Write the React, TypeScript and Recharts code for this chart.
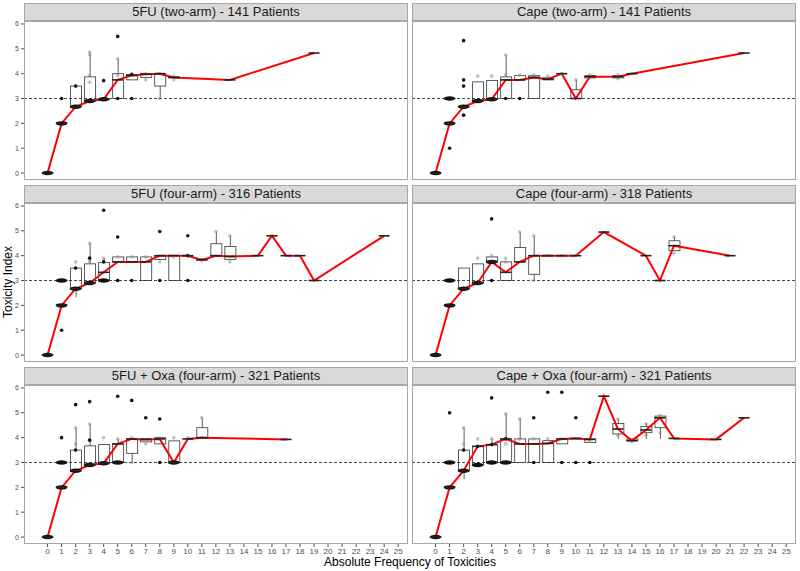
import React from 'react';
import { ComposedChart, Bar, Line, Scatter, XAxis, YAxis, ReferenceLine } from 'recharts';

// box rows: [x, lowWhisker, q1, median, q3, highWhisker]
type BoxRow = [number, number, number, number, number, number];
// point rows: [x, y, kind] kind: d = dense cluster, b = outlier, g = jitter point
type PtRow = [number, number, string];

const xTicks = [0, 1, 2, 3, 4, 5, 6, 7, 8, 9, 10, 11, 12, 13, 14, 15, 16, 17, 18, 19, 20, 21, 22, 23, 24, 25];
const yTicks = [0, 1, 2, 3, 4, 5, 6];

const fu2Box: BoxRow[] = [
  [0, 0, 0, 0, 0, 0], [1, 2, 2, 2, 2, 2], [2, 2.67, 2.67, 2.67, 3.5, 3.5],
  [3, 2.9, 2.9, 2.9, 3.87, 4.87], [4, 2.97, 2.97, 2.97, 2.97, 2.97], [5, 3, 3, 3.75, 4, 4.6],
  [6, 3.75, 3.75, 3.93, 3.97, 4], [7, 3.83, 3.85, 3.98, 4, 4], [8, 3, 3.5, 4, 4, 4],
  [9, 3.83, 3.83, 3.85, 3.87, 3.87], [13, 3.75, 3.75, 3.75, 3.75, 3.75], [19, 4.83, 4.83, 4.83, 4.83, 4.83],
];
const fu2Pts: PtRow[] = [
  [0, 0, 'd'], [1, 2, 'd'], [2, 2.67, 'd'], [3, 2.9, 'd'], [4, 2.97, 'd'],
  [1, 3, 'b'], [2, 3.5, 'b'], [4, 3.72, 'b'], [5, 5.5, 'b'], [5, 3, 'b'], [6, 3, 'b'], [6, 3.97, 'b'],
  [3, 4.75, 'g'], [3, 4.87, 'g'], [3, 3.93, 'g'], [3, 3.65, 'g'], [5, 4.6, 'g'], [5, 3.93, 'g'],
  [7, 3.75, 'g'], [7, 4, 'g'], [8, 3, 'g'], [8, 4, 'g'], [9, 3.9, 'g'], [9, 3.75, 'g'],
];

const cape2Box: BoxRow[] = [
  [0, 0, 0, 0, 0, 0], [1, 2, 2, 2, 2, 2], [2, 2.67, 2.67, 2.67, 2.67, 2.67],
  [3, 2.9, 2.9, 2.9, 3.67, 3.67], [4, 2.97, 2.97, 2.97, 3.73, 3.73], [5, 3, 3, 3.75, 3.87, 4.75],
  [6, 3.75, 3.75, 3.75, 3.92, 3.92], [7, 3, 3, 3.85, 3.92, 3.92], [8, 3.75, 3.75, 3.78, 3.83, 3.83],
  [9, 4, 4, 4, 4, 4], [10, 3, 3, 3, 3.35, 3.75], [11, 3.83, 3.83, 3.88, 3.92, 3.92],
  [13, 3.83, 3.83, 3.88, 3.92, 3.92], [14, 4, 4, 4, 4, 4], [22, 4.83, 4.83, 4.83, 4.83, 4.83],
];
const cape2Pts: PtRow[] = [
  [0, 0, 'd'], [1, 2, 'd'], [1, 3, 'd'], [2, 2.67, 'd'], [3, 2.9, 'd'], [4, 2.97, 'd'],
  [1, 1, 'b'], [2, 5.33, 'b'], [2, 3.75, 'b'], [2, 3.5, 'b'], [2, 2.33, 'b'], [6, 3, 'b'], [5, 3, 'b'],
  [3, 3.9, 'g'], [4, 3.9, 'g'], [5, 3.95, 'g'], [5, 4.75, 'g'], [6, 3.95, 'g'], [7, 3.95, 'g'],
  [8, 3.9, 'g'], [9, 4, 'g'], [10, 3.75, 'g'], [11, 3.95, 'g'], [13, 3.95, 'g'], [13, 3.8, 'g'], [14, 4, 'g'],
];

const fu4Box: BoxRow[] = [
  [0, 0, 0, 0, 0, 0], [1, 2, 2, 2, 2, 2], [2, 2.33, 2.67, 2.67, 3.5, 3.5],
  [3, 2.9, 2.9, 2.9, 3.67, 4.5], [4, 3, 3, 3.33, 3.72, 3.9], [5, 3.75, 3.75, 3.75, 3.95, 3.95],
  [6, 3.75, 3.75, 3.75, 3.95, 3.95], [7, 3, 3, 3.75, 3.95, 3.95], [8, 3.85, 3.85, 4, 4, 4],
  [9, 3, 3, 4, 4, 4], [10, 4, 4, 4, 4, 4], [11, 3.83, 3.83, 3.83, 3.87, 3.87],
  [12, 4, 4, 4, 4.48, 4.97], [13, 3.85, 3.85, 3.97, 4.37, 4.8], [15, 4, 4, 4, 4, 4],
  [16, 4.8, 4.8, 4.8, 4.8, 4.8], [17, 4, 4, 4, 4, 4], [18, 4, 4, 4, 4, 4],
  [19, 3, 3, 3, 3, 3], [24, 4.8, 4.8, 4.8, 4.8, 4.8],
];
const fu4Pts: PtRow[] = [
  [0, 0, 'd'], [1, 2, 'd'], [1, 3, 'd'], [2, 2.67, 'd'], [3, 2.9, 'd'], [4, 3, 'd'],
  [1, 1, 'b'], [2, 3.5, 'b'], [3, 3.9, 'b'], [4, 5.83, 'b'], [4, 3.75, 'b'], [5, 4.75, 'b'], [5, 3, 'b'],
  [6, 3, 'b'], [8, 4.97, 'b'], [8, 3, 'b'], [10, 4.8, 'b'], [10, 3, 'b'], [10, 4, 'b'],
  [2, 3.75, 'g'], [3, 3.75, 'g'], [3, 4.5, 'g'], [4, 3.9, 'g'], [5, 3.95, 'g'], [6, 3.95, 'g'],
  [7, 3.95, 'g'], [8, 3.75, 'g'], [9, 3.95, 'g'], [11, 3.8, 'g'], [12, 4.97, 'g'], [13, 4.8, 'g'], [13, 3.75, 'g'],
];

const cape4Box: BoxRow[] = [
  [0, 0, 0, 0, 0, 0], [1, 2, 2, 2, 2, 2], [2, 2.67, 2.67, 2.67, 3.5, 3.5],
  [3, 2.9, 2.9, 2.9, 3.67, 3.67], [4, 3.75, 3.75, 3.75, 3.95, 3.95], [5, 3, 3, 3.33, 3.75, 3.75],
  [6, 3.75, 3.75, 3.75, 4.33, 4.95], [7, 3, 3.25, 4, 4, 4.78], [8, 4, 4, 4, 4, 4],
  [9, 4, 4, 4, 4, 4], [10, 4, 4, 4, 4, 4], [12, 4.95, 4.95, 4.95, 4.95, 4.95],
  [15, 4, 4, 4, 4, 4], [16, 3, 3, 3, 3, 3], [17, 4.2, 4.2, 4.4, 4.6, 4.75], [21, 4, 4, 4, 4, 4],
];
const cape4Pts: PtRow[] = [
  [0, 0, 'd'], [1, 2, 'd'], [1, 3, 'd'], [2, 2.67, 'd'], [3, 2.9, 'd'], [4, 3.75, 'd'],
  [4, 5.48, 'b'], [4, 3, 'b'],
  [3, 3.9, 'g'], [4, 4, 'g'], [5, 3.9, 'g'], [5, 3.75, 'g'], [6, 4.95, 'g'], [7, 4.8, 'g'], [7, 3, 'g'],
  [8, 4, 'g'], [9, 4, 'g'], [10, 4, 'g'], [17, 4.1, 'g'], [17, 4.75, 'g'],
];

const fuOxaBox: BoxRow[] = [
  [0, 0, 0, 0, 0, 0], [1, 2, 2, 2, 2, 2], [2, 2.67, 2.67, 2.67, 3.5, 4.4],
  [3, 2.9, 2.9, 2.9, 3.67, 4.55], [4, 2.97, 2.97, 2.97, 3.72, 3.72], [5, 3, 3, 3.75, 3.75, 3.95],
  [6, 3, 3.37, 3.95, 3.95, 3.95], [7, 3.83, 3.83, 3.93, 3.95, 3.95], [8, 3.75, 3.75, 3.95, 4, 4],
  [9, 3, 3, 3, 3.87, 3.87], [10, 3.95, 3.95, 3.95, 3.95, 3.95], [11, 4, 4, 4, 4.4, 4.8],
  [17, 3.93, 3.93, 3.93, 3.93, 3.93],
];
const fuOxaPts: PtRow[] = [
  [0, 0, 'd'], [1, 2, 'd'], [1, 3, 'd'], [2, 2.67, 'd'], [3, 2.9, 'd'], [4, 2.97, 'd'], [5, 3, 'd'], [9, 3, 'd'],
  [1, 4, 'b'], [2, 5.33, 'b'], [2, 3.5, 'b'], [3, 5.45, 'b'], [3, 3.9, 'b'], [5, 5.67, 'b'], [6, 5.5, 'b'],
  [7, 4.8, 'b'], [8, 4.75, 'b'], [8, 3, 'b'],
  [2, 3.75, 'g'], [2, 4.4, 'g'], [3, 4.55, 'g'], [4, 4, 'g'], [5, 3.95, 'g'], [6, 4, 'g'], [6, 3, 'g'],
  [7, 3.75, 'g'], [8, 4, 'g'], [9, 4, 'g'], [10, 4, 'g'], [11, 4.8, 'g'], [11, 4, 'g'], [17, 3.93, 'g'],
];

const capeOxaBox: BoxRow[] = [
  [0, 0, 0, 0, 0, 0], [1, 2, 2, 2, 2, 2], [2, 2.33, 2.67, 2.67, 3.5, 4.4],
  [3, 2.9, 2.9, 3.65, 3.65, 3.65], [4, 3, 3, 3.72, 3.72, 3.95], [5, 3, 3, 3.95, 3.95, 5],
  [6, 3, 3, 3.75, 3.95, 4.79], [7, 3, 3, 3.75, 3.95, 3.95], [8, 3, 3, 3.77, 3.88, 3.88],
  [9, 3.75, 3.75, 3.95, 3.95, 3.95], [10, 3.97, 3.97, 3.97, 3.97, 3.97], [11, 3.8, 3.8, 3.93, 3.95, 3.95],
  [12, 5.67, 5.67, 5.67, 5.67, 5.67], [13, 3.95, 4.15, 4.35, 4.57, 4.75], [14, 3.87, 3.87, 3.88, 3.95, 3.95],
  [15, 3.95, 4.2, 4.31, 4.45, 4.6], [16, 3.95, 4.4, 4.8, 4.87, 4.87], [17, 3.97, 3.97, 3.97, 3.97, 3.97],
  [20, 3.93, 3.93, 3.93, 3.93, 3.93], [22, 4.8, 4.8, 4.8, 4.8, 4.8],
];
const capeOxaPts: PtRow[] = [
  [0, 0, 'd'], [1, 2, 'd'], [1, 3, 'd'], [2, 2.67, 'd'], [3, 2.9, 'd'], [4, 3, 'd'], [5, 3, 'd'],
  [1, 5, 'b'], [2, 3.5, 'b'], [3, 3.65, 'b'], [4, 5.6, 'b'], [4, 3.72, 'b'], [7, 4.8, 'b'], [7, 3, 'b'],
  [8, 5.83, 'b'], [9, 5.83, 'b'], [9, 3, 'b'], [10, 4.8, 'b'], [10, 3, 'b'], [11, 3, 'b'], [5, 3.95, 'b'],
  [2, 4.4, 'g'], [2, 3.75, 'g'], [3, 3.95, 'g'], [4, 3.95, 'g'], [5, 4.95, 'g'], [5, 3.75, 'g'], [6, 4.75, 'g'],
  [6, 3.95, 'g'], [7, 3.95, 'g'], [8, 3.95, 'g'], [9, 3.95, 'g'], [10, 3.97, 'g'], [11, 3.85, 'g'],
  [13, 4.75, 'g'], [13, 4.1, 'g'], [14, 3.85, 'g'], [15, 4.55, 'g'], [15, 4.1, 'g'], [16, 4.9, 'g'], [16, 4.2, 'g'],
];

const panels = [
  { title: '5FU (two-arm) - 141 Patients', box: fu2Box, pts: fu2Pts, col: 0, row: 0 },
  { title: 'Cape (two-arm) - 141 Patients', box: cape2Box, pts: cape2Pts, col: 1, row: 0 },
  { title: '5FU (four-arm) - 316 Patients', box: fu4Box, pts: fu4Pts, col: 0, row: 1 },
  { title: 'Cape (four-arm) - 318 Patients', box: cape4Box, pts: cape4Pts, col: 1, row: 1 },
  { title: '5FU + Oxa (four-arm) - 321 Patients', box: fuOxaBox, pts: fuOxaPts, col: 0, row: 2 },
  { title: 'Cape + Oxa (four-arm) - 321 Patients', box: capeOxaBox, pts: capeOxaPts, col: 1, row: 2 },
];

const FONT = '"Liberation Sans", Arial, sans-serif';
const PLOT_W = 384;
const PLOT_H = 159;
const STRIP_H = 18;
const Y_AXIS_W = 24;
const X_AXIS_H = 14;
const colLeft = [24, 412];
const rowTop = [21, 203, 385];
const BORDER = '#a6a6a6';

function Whisker(p: any) {
  const { x, y, width, height } = p;
  if (!isFinite(height) || Math.abs(height) < 0.1) return null;
  const cx = x + width / 2;
  return <line x1={cx} x2={cx} y1={y} y2={y + height} stroke="#333" strokeWidth={0.8} />;
}

function BoxShape(p: any) {
  const { x, y, width, height } = p;
  if (!isFinite(height) || Math.abs(height) < 0.1) return null;
  const top = Math.min(y, y + height);
  return <rect x={x} y={top} width={width} height={Math.abs(height)} fill="#fff" stroke="#333" strokeWidth={0.8} />;
}

function MedianMark(p: any) {
  const { cx, cy } = p;
  return <line x1={cx - 5.5} x2={cx + 5.5} y1={cy} y2={cy} stroke="#222" strokeWidth={1.6} />;
}

function PointMark(p: any) {
  const { cx, cy, payload } = p;
  if (payload.k === 'd') return <ellipse cx={cx} cy={cy} rx={6} ry={2.2} fill="#111" />;
  if (payload.k === 'b') return <circle cx={cx} cy={cy} r={1.8} fill="#111" />;
  return <circle cx={cx} cy={cy} r={1.8} fill="#8c8c8c" fillOpacity={0.55} />;
}

function Panel({ title, box, pts, col, row }: typeof panels[number]) {
  const showY = col === 0;
  const showX = row === 2;
  const rows = box.map(([x, lo, q1, med, q3, hi]) => ({
    x, med, base: lo, wLow: q1 - lo, body: q3 - q1, wHigh: hi - q3,
  }));
  const points = pts.map(([x, y, k]) => ({ x, y, k }));
  const left = colLeft[col];
  const top = rowTop[row];
  const chartW = PLOT_W + (showY ? Y_AXIS_W : 0);
  const chartH = PLOT_H + (showX ? X_AXIS_H : 0);
  return (
    <>
      <div style={{
        position: 'absolute', left, top: top - STRIP_H, width: PLOT_W, height: STRIP_H,
        background: '#d9d9d9', border: `1px solid ${BORDER}`, boxSizing: 'border-box',
        fontFamily: FONT, fontSize: 13, color: '#1a1a1a', textAlign: 'center', lineHeight: '16px',
      }}>{title}</div>
      <div style={{ position: 'absolute', left: left - (showY ? Y_AXIS_W : 0), top }}>
        <ComposedChart width={chartW} height={chartH} data={rows} barSize={11}
          margin={{ top: 0, right: 0, bottom: 0, left: 0 }}>
          <XAxis dataKey="x" type="number" domain={[-1.68, 25.7]} ticks={xTicks} interval={0}
            allowDataOverflow hide={!showX} height={X_AXIS_H} axisLine={false} tickSize={3} tickMargin={1}
            tick={{ fontSize: 8, fill: '#4d4d4d', fontFamily: FONT }} tickLine={{ stroke: '#4d4d4d' }} />
          <YAxis type="number" domain={[-0.28, 6.12]} ticks={yTicks} interval={0}
            allowDataOverflow hide={!showY} width={Y_AXIS_W} axisLine={false} tickSize={3} tickMargin={2}
            tick={{ fontSize: 7, fill: '#4d4d4d', fontFamily: FONT }} tickLine={{ stroke: '#4d4d4d' }} />
          <ReferenceLine y={3} stroke="#333" strokeDasharray="3 2" strokeWidth={0.9} />
          <Bar dataKey="base" stackId="b" fill="none" isAnimationActive={false} />
          <Bar dataKey="wLow" stackId="b" shape={Whisker} isAnimationActive={false} />
          <Bar dataKey="body" stackId="b" shape={BoxShape} isAnimationActive={false} />
          <Bar dataKey="wHigh" stackId="b" shape={Whisker} isAnimationActive={false} />
          <Scatter data={points} dataKey="y" shape={PointMark} isAnimationActive={false} />
          <Scatter dataKey="med" shape={MedianMark} isAnimationActive={false} />
          <Line dataKey="med" stroke="#ff0000" strokeWidth={2} dot={false} isAnimationActive={false} />
        </ComposedChart>
      </div>
      <div style={{
        position: 'absolute', left, top, width: PLOT_W, height: PLOT_H,
        border: `1px solid ${BORDER}`, boxSizing: 'border-box', pointerEvents: 'none',
      }} />
    </>
  );
}

export default function App() {
  return (
    <div style={{ position: 'absolute', left: 0, top: 0, width: 800, height: 571, background: '#fff', fontFamily: FONT }}>
      {panels.map((p) => <Panel key={p.title} {...p} />)}
      <div style={{
        position: 'absolute', left: 8, top: 282, transform: 'translate(-50%, -50%) rotate(-90deg)',
        fontSize: 12, whiteSpace: 'nowrap', color: '#000',
      }}>Toxicity Index</div>
      <div style={{
        position: 'absolute', left: 24, width: 772, top: 556, textAlign: 'center',
        fontSize: 12, lineHeight: '13px', color: '#000',
      }}>Absolute Frequency of Toxicities</div>
    </div>
  );
}
